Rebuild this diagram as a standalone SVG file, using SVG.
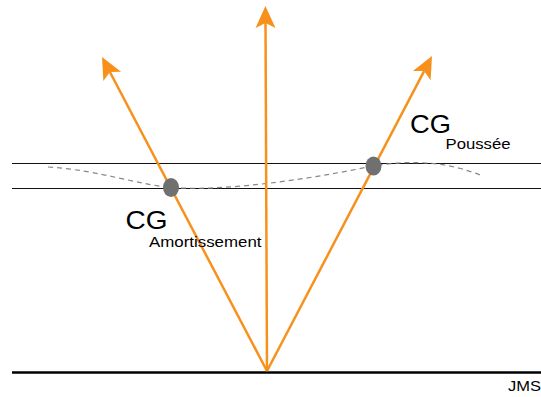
<svg xmlns="http://www.w3.org/2000/svg" width="541" height="397" viewBox="0 0 541 397">
<style>
.ref{stroke:#111;stroke-width:1;fill:none}
.ground{stroke:#000;stroke-width:2.5;fill:none}
.vec{stroke:#F7911C;stroke-width:2.5;fill:none;marker-end:url(#head)}
.wave{stroke:#888;stroke-width:1.2;fill:none;stroke-dasharray:5 4}
.cg{fill:#707070}
text{font-family:"Liberation Sans",Arial,sans-serif;fill:#000}
.big{font-size:25px}
.sub{font-size:15px}
.sig{font-size:15px}
</style>
<defs>
<marker id="head" markerUnits="userSpaceOnUse" markerWidth="24" markerHeight="22" viewBox="0 0 22 22" refX="5" refY="11" orient="auto">
<path d="M0,1 L22,11 L0,21 L5,11 z" fill="#F7911C"/>
</marker>
</defs>
<g id="reference-lines">
<line class="ref" x1="12" y1="163.5" x2="541" y2="163.5"/>
<line class="ref" x1="12" y1="188.5" x2="541" y2="188.5"/>
<line class="ground" x1="12" y1="372.5" x2="541" y2="372.5"/>
</g>
<g id="trajectory">
<path class="wave" d="M48,167 C100,170 140,186 178,188 C230,190 300,181 373,166 C420,158 455,165 480,175"/>
</g>
<g id="connectors">
<line class="vec" x1="267" y1="371" x2="265.5" y2="23"/>
<line class="vec" x1="267" y1="371" x2="109.9" y2="72"/>
<line class="vec" x1="267" y1="371" x2="424.1" y2="71.1"/>
</g>
<g id="cg-amortissement">
<ellipse class="cg" cx="171" cy="187.5" rx="8" ry="9.5"/>
<text class="big" x="125.5" y="229" textLength="42" lengthAdjust="spacingAndGlyphs">CG</text>
<text class="sub" x="149" y="246.7" textLength="112.5" lengthAdjust="spacingAndGlyphs">Amortissement</text>
</g>
<g id="cg-poussee">
<ellipse class="cg" cx="373.5" cy="166" rx="8" ry="9.5"/>
<text class="big" x="410" y="132.7" textLength="41" lengthAdjust="spacingAndGlyphs">CG</text>
<text class="sub" x="445.5" y="149.3" textLength="65" lengthAdjust="spacingAndGlyphs">Poussée</text>
</g>
<g id="signature">
<text class="sig" x="508" y="390.7" textLength="33" lengthAdjust="spacingAndGlyphs">JMS</text>
</g>
</svg>
